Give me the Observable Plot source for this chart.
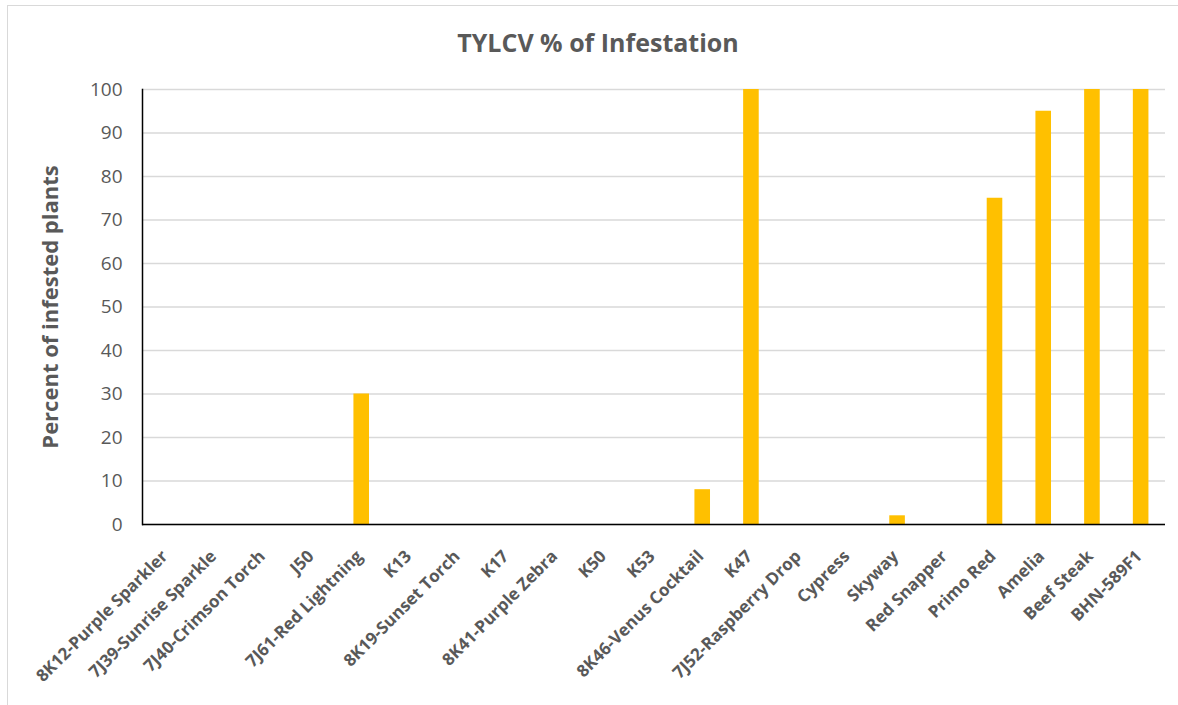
<!DOCTYPE html>
<html>
<head>
<meta charset="utf-8">
<script src="https://cdn.jsdelivr.net/npm/d3@7"></script>
<script src="https://cdn.jsdelivr.net/npm/@observablehq/plot@0.6"></script>
<style>
  body { margin: 0; background: #fff; overflow: hidden; }
  #wrap { position: relative; width: 1178px; height: 705px; font-family: "Open Sans", sans-serif; }
  #frame { position: absolute; left: 7px; top: 5px; width: 1190px; height: 720px; border: 1.5px solid #d9d9d9; box-sizing: border-box; }
  #title { position: absolute; left: 0; top: 28px; width: 1196px; text-align: center; font-size: 25px; font-weight: bold; color: #595959; line-height: 28px; }
  #chart { position: absolute; left: 0; top: 0; }
</style>
</head>
<body>
<div id="wrap">
  <div id="frame"></div>
  <div id="title">TYLCV % of Infestation</div>
  <div id="chart"></div>
</div>
<script>
const categories = ["8K12-Purple Sparkler", "7J39-Sunrise Sparkle", "7J40-Crimson Torch", "J50", "7J61-Red Lightning", "K13", "8K19-Sunset Torch", "K17", "8K41-Purple Zebra", "K50", "K53", "8K46-Venus Cocktail", "K47", "7J52-Raspberry Drop", "Cypress", "Skyway", "Red Snapper", "Primo Red", "Amelia", "Beef Steak", "BHN-589F1"];
const infestation = [0, 0, 0, 0, 30, 0, 0, 0, 0, 0, 0, 8, 100, 0, 0, 2, 0, 75, 95, 100, 100];
const yTicks = [0, 10, 20, 30, 40, 50, 60, 70, 80, 90, 100];
const yLabel = "Percent of infested plants";

const data = categories.map((c, i) => ({category: c, value: infestation[i]}));

const chart = Plot.plot({
  width: 1178,
  height: 705,
  marginTop: 89,
  marginLeft: 142,
  marginRight: 13,
  marginBottom: 181,
  style: {fontFamily: "'Open Sans', sans-serif", color: "#595959", background: "transparent"},
  x: {domain: categories, paddingInner: 0.68, paddingOuter: 0.34, round: false},
  y: {domain: [0, 100]},
  marks: [
    Plot.gridY(yTicks, {stroke: "#d9d9d9", strokeOpacity: 1, strokeWidth: 1.3}),
    Plot.barY(data, {x: "category", y: "value", fill: "#FFC000"}),
    Plot.axisY(yTicks, {tickSize: 0, tickPadding: 20, label: null, fontSize: 19, fill: "#595959"}),
    Plot.axisX({tickSize: 0, tickPadding: 14, tickRotate: -45, label: null, fontSize: 17, fontWeight: "bold", fill: "#595959", dx: -2, dy: 15}),
    Plot.ruleY([0], {stroke: "#000", strokeWidth: 1.5}),
    Plot.frame({anchor: "left", stroke: "#000", strokeWidth: 1.5}),
    Plot.text([yLabel], {frameAnchor: "left", textAnchor: "middle", rotate: -90, dx: -92, fontSize: 22, fontWeight: "bold", fill: "#595959"})
  ]
});
document.getElementById("chart").appendChild(chart);
</script>
</body>
</html>
